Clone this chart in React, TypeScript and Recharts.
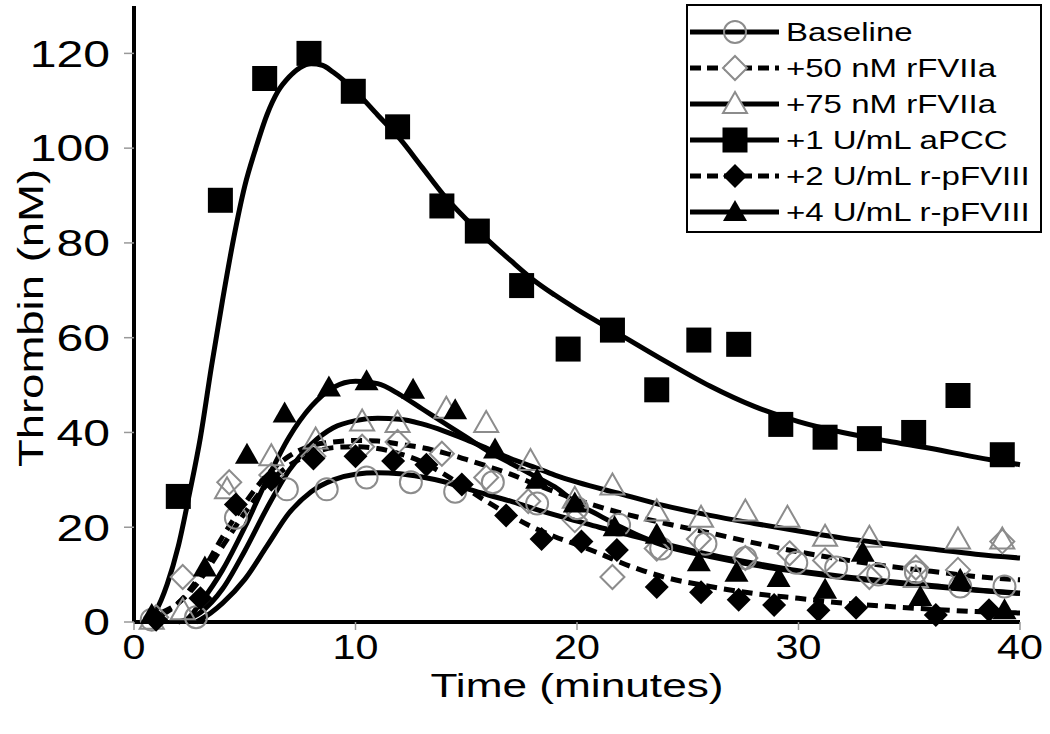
import React from 'react'
import { ComposedChart, Line, Scatter, XAxis, YAxis } from 'recharts'

// measured points, [time (min), thrombin (nM)]
const baselinePts = [[0.8, 0.5], [2.8, 1], [4.6, 22], [6.9, 28], [8.7, 28], [10.5, 30.5], [12.5, 29.5], [14.5, 27.5], [16.2, 29.5], [18.2, 25], [20, 24], [21.9, 20.5], [23.8, 15.5], [25.8, 16.5], [27.6, 13.5], [29.9, 12.5], [31.7, 11.5], [33.6, 10], [35.3, 10.5], [37.3, 7.5], [39.3, 7.5]]
const f50Pts = [[1, 1], [2.2, 9.5], [4.3, 29.5], [6.2, 31], [8.1, 35], [10.3, 37], [11.9, 38], [13.9, 35.5], [15.9, 30.5], [17.8, 25.5], [19.9, 21.5], [21.6, 9.5], [23.6, 15.5], [25.5, 17.5], [27.6, 13.5], [29.6, 14.5], [31.2, 13], [33.2, 9.5], [35.3, 11.5], [37.2, 11], [39.2, 17]]
const f75Pts = [[0.8, 0.5], [2.2, 2.5], [4.2, 28], [6.2, 35], [8.2, 38.5], [10.3, 42.3], [11.9, 42], [14.1, 45], [15.9, 42], [17.9, 34], [19.9, 26], [21.6, 28.8], [23.6, 23.3], [25.6, 22], [27.6, 23.3], [29.5, 22], [31.2, 18], [33.2, 17.8], [35.3, 9.3], [37.2, 17.4], [39.2, 17.4]]
const apccPts = [[2, 26.5], [3.9, 89], [5.9, 114.7], [7.9, 120], [9.9, 112], [11.9, 104.5], [13.9, 87.8], [15.5, 82.5], [17.5, 71], [19.6, 57.6], [21.6, 61.6], [23.6, 49], [25.5, 59.5], [27.3, 58.6], [29.2, 41.7], [31.2, 39], [33.2, 38.7], [35.2, 40], [37.2, 47.8], [39.2, 35.3]]
const u2Pts = [[1, 0.5], [3, 5], [4.6, 24.8], [6.2, 30], [8.1, 34.5], [10, 35], [11.7, 34], [13.2, 33.2], [14.8, 29], [16.8, 22.5], [18.4, 17.5], [20.2, 17], [21.8, 15.2], [23.6, 7.4], [25.6, 6.3], [27.3, 4.7], [28.9, 3.6], [30.9, 2.5], [32.6, 3], [36.2, 1.5], [38.6, 2.5]]
const u4Pts = [[0.8, 1.5], [3.2, 11.5], [5.1, 35.3], [6.8, 44], [8.8, 49.5], [10.5, 50.8], [12.6, 49], [14.5, 44.7], [16.3, 36.4], [18.2, 30], [19.9, 25], [21.7, 20], [23.6, 18.4], [25.5, 12.6], [27.2, 10.4], [29.1, 9.3], [31.2, 6.8], [32.9, 14.6], [35.5, 5.3], [37.3, 8.9], [39.3, 2.5]]

// fitted curves
const baselineFit = [[2.8, 0], [3, 0.5], [4, 4], [5, 9], [6, 16], [7, 23], [8, 27.5], [9, 30], [10, 31.2], [11, 31.5], [12, 31.3], [13, 30.6], [14, 29.6], [15, 28.2], [16, 26.8], [17, 25.5], [18, 24], [19, 22.6], [20, 21.3], [21, 20], [22, 18.8], [23, 17.6], [24, 16.4], [26, 14.2], [28, 12.4], [30, 10.8], [32, 9.6], [34, 8.6], [36, 7.7], [38, 6.8], [40, 6.1]]
const f50Fit = [[0.5, 0.3], [1, 1], [2, 4], [3, 10], [4, 18], [5, 25], [6, 31], [7, 35], [8, 37.2], [9, 38], [10, 38.3], [11, 38.2], [12, 37.5], [13, 36.8], [14, 35.7], [15, 34.3], [16, 32.8], [17, 31.2], [18, 29.3], [19, 27.5], [20, 25.8], [22, 23], [24, 20.8], [26, 18.8], [28, 16.7], [30, 14.8], [32, 13.2], [34, 11.8], [36, 10.7], [38, 9.6], [40, 8.9]]
const f75Fit = [[2, 0], [3, 2], [4, 7], [5, 15], [6, 24], [7, 32], [8, 37.5], [9, 41], [10, 42.5], [11, 43], [12, 42.8], [13, 41.8], [14, 40.3], [15, 38.5], [16, 36.5], [17, 34.5], [18, 32.8], [19, 31], [20, 29.5], [22, 27], [24, 24.5], [26, 22.5], [28, 20.8], [30, 19.2], [32, 17.7], [34, 16.5], [36, 15.4], [38, 14.3], [40, 13.5]]
const apccFit = [[0.5, 0.5], [1, 2.5], [1.5, 8], [2, 16], [2.5, 27], [3, 39], [3.5, 54], [4, 68], [4.5, 81], [5, 92], [5.5, 100], [6, 107], [6.5, 112], [7, 115], [7.5, 117], [8, 117.8], [8.5, 117.5], [9, 116], [10, 112], [11, 107], [12, 102], [13, 96], [14, 90], [15, 85], [16, 80.5], [17, 76.3], [18, 72.3], [19, 69], [20, 66], [22, 60.5], [24, 55], [26, 49.8], [28, 45.5], [30, 42.3], [32, 40], [34, 38.2], [36, 36.6], [38, 34.8], [40, 33.2]]
const u2Fit = [[0.5, 0.5], [1, 1.5], [2, 4], [3, 9], [4, 16], [5, 23], [6, 29], [7, 33], [8, 35.5], [9, 36.8], [10, 37], [11, 36.6], [12, 35.5], [13, 33.8], [14, 31.2], [15, 28.2], [16, 25.2], [17, 22.5], [18, 20], [19, 18], [20, 16.3], [21, 14.5], [22, 12.5], [23, 10.8], [24, 9.4], [26, 7.5], [28, 6], [30, 5], [32, 4], [34, 3.3], [36, 2.7], [38, 2.2], [40, 1.9]]
const u4Fit = [[2.3, 0], [2.5, 1], [3, 4], [4, 11], [5, 20], [6, 30], [7, 39], [8, 45.5], [9, 49.5], [10, 50.8], [11, 50.3], [12, 48], [13, 45], [14, 42], [15, 39], [16, 36], [17, 33.5], [18, 31], [19, 28.5], [20, 25], [21, 22.5], [22, 20], [23, 17.8], [24, 16], [26, 13.8], [28, 12], [30, 10.6], [32, 9.4], [34, 8.4], [36, 7.5], [38, 6.7], [40, 6]]

const xTicks = [0, 10, 20, 30, 40]
const yTicks = [0, 20, 40, 60, 80, 100, 120]

const toXY = (arr: number[][]) => arr.map(([x, y]) => ({ x, y }))

const FONT = '"Liberation Sans", Arial, sans-serif'
const GRAY = '#8c8c8c'

type Kind = 'circle' | 'diamond' | 'triangle' | 'square' | 'bdiamond' | 'btriangle'

const series: { name: string; pts: number[][]; fit: number[][]; dashed: boolean; kind: Kind }[] = [
  { name: 'Baseline', pts: baselinePts, fit: baselineFit, dashed: false, kind: 'circle' },
  { name: '+50 nM rFVIIa', pts: f50Pts, fit: f50Fit, dashed: true, kind: 'diamond' },
  { name: '+75 nM rFVIIa', pts: f75Pts, fit: f75Fit, dashed: false, kind: 'triangle' },
  { name: '+1 U/mL aPCC', pts: apccPts, fit: apccFit, dashed: false, kind: 'square' },
  { name: '+2 U/mL r-pFVIII', pts: u2Pts, fit: u2Fit, dashed: true, kind: 'bdiamond' },
  { name: '+4 U/mL r-pFVIII', pts: u4Pts, fit: u4Fit, dashed: false, kind: 'btriangle' },
]

const Marker = ({ kind, cx, cy, bg }: { kind: Kind; cx: number; cy: number; bg?: string }) => {
  const fill = bg || 'none'
  switch (kind) {
    case 'circle':
      return <circle cx={cx} cy={cy} r={11} fill="none" stroke={GRAY} strokeWidth={2} />
    case 'diamond':
      return <polygon points={`${cx},${cy - 12} ${cx + 12},${cy} ${cx},${cy + 12} ${cx - 12},${cy}`} fill={fill} stroke={GRAY} strokeWidth={2} />
    case 'triangle':
      return <polygon points={`${cx},${cy - 12} ${cx + 12},${cy + 9} ${cx - 12},${cy + 9}`} fill={fill} stroke={GRAY} strokeWidth={2} />
    case 'square':
      return <rect x={cx - 12.5} y={cy - 12.5} width={25} height={25} fill="#000" />
    case 'bdiamond':
      return <polygon points={`${cx},${cy - 12} ${cx + 12},${cy} ${cx},${cy + 12} ${cx - 12},${cy}`} fill="#000" />
    default:
      return <polygon points={`${cx},${cy - 12} ${cx + 12},${cy + 9} ${cx - 12},${cy + 9}`} fill="#000" />
  }
}

// the figure's lettering is wide, so text is stretched sideways
const YTick = ({ x, y, payload }: any) => (
  <text transform={`translate(${x},${y}) scale(1.3,1)`} textAnchor="end" dy="0.36em" fontSize={37} fontFamily={FONT} fill="#000">
    {payload.value}
  </text>
)

const XTick = ({ x, y, payload }: any) => (
  <text transform={`translate(${x},${y + 26}) scale(1.18,1)`} textAnchor="middle" fontSize={35} fontFamily={FONT} fill="#000">
    {payload.value}
  </text>
)

const XTitle = ({ viewBox }: any) => (
  <text transform={`translate(${viewBox.x + viewBox.width / 2},697) scale(1.34,1)`} textAnchor="middle" fontSize={33} fontFamily={FONT} fill="#000">
    Time (minutes)
  </text>
)

const YTitle = ({ viewBox }: any) => (
  <text transform={`translate(43,${viewBox.y + viewBox.height / 2 + 4}) rotate(-90) scale(1.3,1)`} textAnchor="middle" fontSize={35} fontFamily={FONT} fill="#000">
    Thrombin (nM)
  </text>
)

const LegendBox = () => (
  <div style={{ position: 'absolute', left: 686, top: 4, width: 350, border: '2px solid #000', background: '#fff', padding: '8px 0 1px 2px', fontFamily: FONT }}>
    {series.map((s) => (
      <div key={s.name} style={{ display: 'flex', alignItems: 'center', height: 36 }}>
        <svg width={92} height={30} style={{ flex: 'none' }}>
          <line x1={0} y1={15} x2={89} y2={15} stroke="#000" strokeWidth={5} strokeDasharray={s.dashed ? '11 6' : undefined} />
          <Marker kind={s.kind} cx={45} cy={15} bg="#fff" />
        </svg>
        <span style={{ fontSize: 25, marginLeft: 4, color: '#000', display: 'inline-block', transform: 'scaleX(1.32)', transformOrigin: 'left center', whiteSpace: 'nowrap' }}>
          {s.name}
        </span>
      </div>
    ))}
  </div>
)

export default function App() {
  return (
    <div style={{ position: 'absolute', left: 0, top: 0, width: 1050, height: 734 }}>
      <ComposedChart width={1050} height={734} margin={{ top: 6, right: 30, left: 0, bottom: 0 }}>
        <XAxis
          dataKey="x"
          type="number"
          domain={[0, 40]}
          ticks={xTicks}
          height={112}
          tickSize={8}
          tickMargin={3}
          axisLine={{ stroke: '#000', strokeWidth: 4 }}
          tickLine={{ stroke: '#999', strokeWidth: 1.5 }}
          tick={<XTick />}
          label={<XTitle />}
        />
        <YAxis
          type="number"
          domain={[0, 130]}
          ticks={yTicks}
          width={134}
          tickSize={10}
          tickMargin={14}
          axisLine={{ stroke: '#000', strokeWidth: 4 }}
          tickLine={{ stroke: '#999', strokeWidth: 1.5 }}
          tick={<YTick />}
          label={<YTitle />}
        />
        {series.map((s) => (
          <Scatter
            key={'p' + s.name}
            name={s.name}
            data={toXY(s.pts)}
            dataKey="y"
            isAnimationActive={false}
            shape={(p: any) => <Marker kind={s.kind} cx={p.cx} cy={p.cy} />}
          />
        ))}
        {series.map((s) => (
          <Line
            key={'f' + s.name}
            data={toXY(s.fit)}
            dataKey="y"
            type="monotone"
            stroke="#000"
            strokeWidth={5}
            strokeDasharray={s.dashed ? '11 7' : undefined}
            dot={false}
            activeDot={false}
            isAnimationActive={false}
          />
        ))}
      </ComposedChart>
      <LegendBox />
    </div>
  )
}
